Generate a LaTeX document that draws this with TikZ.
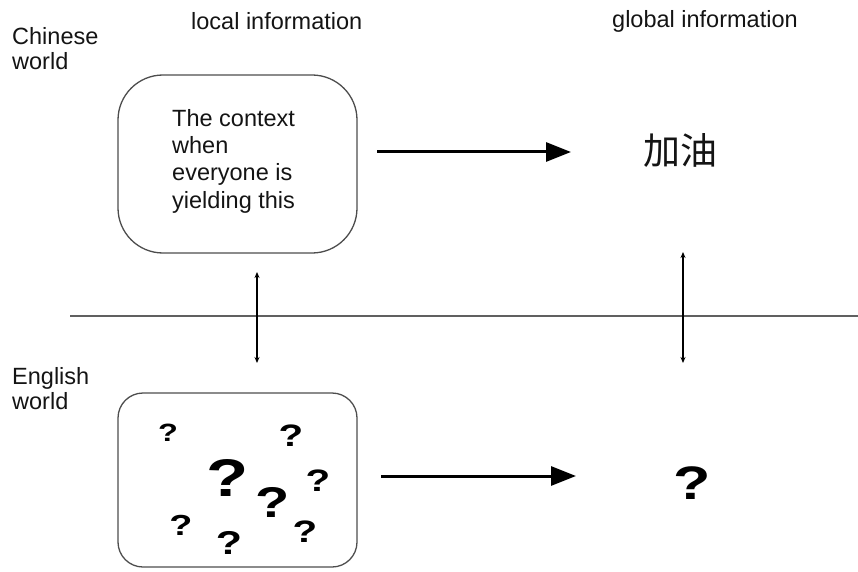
\documentclass[tikz,border=0pt]{standalone}
\usepackage{fontspec}
\setmainfont{Liberation Sans}
\newfontfamily\cjk{Noto Sans CJK SC}
\usetikzlibrary{arrows.meta}
\definecolor{ink}{HTML}{141414}
\definecolor{rule}{HTML}{606060}
\tikzset{
  lbl/.style={inner sep=0pt, text=ink, font=\fontsize{23.5}{25}\selectfont, align=left},
  boxline/.style={draw=rule!80!black, line width=1.3pt},
  flowarrow/.style={line width=3pt, -{Triangle[length=25pt,width=19pt]}},
  linkarrow/.style={line width=1.2pt, {Stealth[length=6pt,width=5pt]}-{Stealth[length=6pt,width=5pt]}},
  qm/.style={inner sep=0pt, xscale=1.3, font=\bfseries\fontsize{#1}{#1}\selectfont}
}
\begin{document}
\begin{tikzpicture}[x=1pt,y=-1pt]
\useasboundingbox (0,0) rectangle (858,572);

% column and row headings
\node[lbl, anchor=base west] (loc) at (191,30) {local information};
\node[lbl, anchor=base west] (glob) at (612,28) {global information};
\node[lbl, anchor=north west] (cn) at (12,27) {Chinese\\world};
\node[lbl, anchor=north west] (en) at (12,367) {English\\world};

% dividing line between the two worlds
\coordinate (divl) at (70,316);
\coordinate (divr) at (858,316);
\draw[rule, line width=2pt] (divl) -- (divr);

% Chinese world: context box and the phrase
\node[boxline, rounded corners=45pt, minimum width=239pt, minimum height=178pt] (ctx) at (237.5,164) {};
\node[inner sep=0pt, anchor=north west, align=left, text=ink, font=\fontsize{23.5}{27.3}\selectfont] (ctxtext) at (172,109)
  {The context\\when\\everyone is\\yielding this};
\node[inner sep=0pt, font=\cjk\fontsize{37}{37}\selectfont, text=ink] (jy) at (680,150) {加油};

% English world: box of unknowns and the unknown phrase
\node[boxline, rounded corners=25pt, minimum width=239pt, minimum height=174pt] (unk) at (237.5,480) {};
\node[qm=25] (q1) at (168,433) {?};
\node[qm=31] (q2) at (291,436) {?};
\node[qm=53] (q3) at (228,478) {?};
\node[qm=31] (q4) at (318,481) {?};
\node[qm=43] (q5) at (273,502) {?};
\node[qm=29] (q6) at (181,525) {?};
\node[qm=33] (q7) at (229,543) {?};
\node[qm=31] (q8) at (305,532) {?};
\node[qm=47] (qg) at (692,483) {?};

% horizontal flow arrows
\coordinate (a1s) at (377,152);
\coordinate (a1e) at (571,152);
\coordinate (a2s) at (381,476);
\coordinate (a2e) at (576,476);
\draw[flowarrow] (a1s) -- (a1e);
\draw[flowarrow] (a2s) -- (a2e);

% correspondences across the two worlds
\coordinate (l1) at (257,272);
\coordinate (l2) at (257,363);
\coordinate (r1) at (683,252);
\coordinate (r2) at (683,363);
\draw[linkarrow] (l1) -- (l2);
\draw[linkarrow] (r1) -- (r2);
\end{tikzpicture}
\end{document}
